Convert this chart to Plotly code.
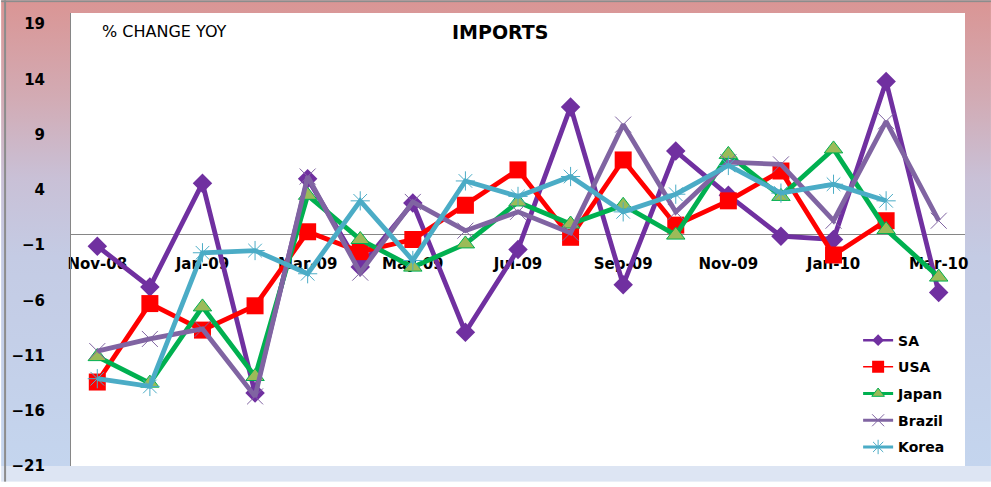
import base64
import plotly.graph_objects as go

# ---------------- data ----------------
months = ["Nov-08", "Dec-08", "Jan-09", "Feb-09", "Mar-09", "Apr-09", "May-09", "Jun-09",
          "Jul-09", "Aug-09", "Sep-09", "Oct-09", "Nov-09", "Dec-09", "Jan-10", "Feb-10", "Mar-10"]
tick_labels = ["Nov-08", "Jan-09", "Mar-09", "May-09", "Jul-09", "Sep-09", "Nov-09", "Jan-10", "Mar-10"]
y_ticks = [-21, -16, -11, -6, -1, 4, 9, 14, 19]

sa = [-1.1, -4.8, 4.6, -14.4, 5.0, -3.0, 2.8, -8.9, -1.4, 11.5, -4.6, 7.5, 3.5, -0.2, -0.5, 13.8, -5.3]
usa = [-13.4, -6.3, -8.7, -6.5, 0.2, -1.6, -0.5, 2.6, 5.8, -0.3, 6.7, 0.8, 3.0, 5.7, -1.9, 1.2, None]
japan = [-11.1, -13.5, -6.6, -12.9, 3.5, -0.5, -3.0, -0.9, 2.9, 0.9, 2.6, -0.1, 7.2, 3.4, 7.7, 0.4, -3.9]
brazil = [-10.6, -9.5, -8.6, -14.7, 5.2, -3.5, 2.9, 0.3, 2.0, 0.1, 9.9, 2.0, 6.5, 6.3, 1.2, 10.2, 1.2]
korea = [-13.1, -13.8, -1.7, -1.5, -3.6, 3.0, -2.4, 4.8, 3.4, 5.2, 2.0, 3.6, 6.2, 3.7, 4.5, 3.0, None]

# ---------------- geometry ----------------
W, H = 991, 487
ML, MR, MT, MB = 70, 26, 13, 16
PW, PH = W - ML - MR, H - MT - MB
Y_MIN, Y_MAX = -21, 20

FONT = "DejaVu Sans"

def px_to_paper(px, py):
    return (px - ML) / PW, (H - MB - py) / PH

# background frame (gradient) as an inline SVG image
svg = f'''<svg xmlns="http://www.w3.org/2000/svg" width="{W}" height="{H}" viewBox="0 0 {W} {H}" preserveAspectRatio="none">
<defs><linearGradient id="g" x1="0" y1="0" x2="0" y2="1">
<stop offset="0" stop-color="#da9594"/>
<stop offset="0.21" stop-color="#d2abb4"/>
<stop offset="0.38" stop-color="#c9c0d6"/>
<stop offset="0.55" stop-color="#c4cbe4"/>
<stop offset="1" stop-color="#c4d5ee"/>
</linearGradient></defs>
<rect x="0" y="0" width="{W}" height="{H - MB}" fill="url(#g)"/>
<rect x="0" y="{H - MB}" width="{W}" height="{MB}" fill="#dde5f3"/>
<rect x="{ML}" y="{MT}" width="{PW}" height="{PH}" fill="#ffffff"/>
<rect x="0" y="0" width="{W}" height="2" fill="#8c8c8c"/>
<rect x="3" y="0" width="2" height="{H}" fill="#8c8c8c"/>
</svg>'''
bg_uri = "data:image/svg+xml;base64," + base64.b64encode(svg.encode()).decode()

fig = go.Figure()

series = [
    ("SA", sa, "#7030a0", dict(symbol="diamond", size=15, color="#7030a0"),
     dict(symbol="diamond", size=9, color="#7030a0"), 2.5),
    ("USA", usa, "#ff0000", dict(symbol="square", size=17, color="#ff0000"),
     dict(symbol="square", size=12, color="#ff0000"), 1.5),
    ("Japan", japan, "#00b050", dict(symbol="triangle-up", size=16, color="#9bbb59",
                                     line=dict(color="#00b050", width=1)),
     dict(symbol="triangle-up", size=11, color="#9bbb59", line=dict(color="#00b050", width=1)), 3),
    ("Brazil", brazil, "#8064a2", dict(symbol="x-thin", size=16, color="#8064a2",
                                       line=dict(color="#8064a2", width=1)),
     dict(symbol="x-thin", size=12, color="#8064a2", line=dict(color="#8064a2", width=1)), 3),
    ("Korea", korea, "#4bacc6", dict(symbol="asterisk-open", size=16, color="#4bacc6",
                                     line=dict(color="#4bacc6", width=1)),
     dict(symbol="asterisk-open", size=12, color="#4bacc6", line=dict(color="#4bacc6", width=1)), 3),
]

for name, vals, col, mk, _, _ in series:
    fig.add_trace(go.Scatter(x=months, y=vals, mode="lines+markers", name=name,
                             line=dict(color=col, width=4.8), marker=mk,
                             showlegend=False, connectgaps=False))

# legend entries (thinner lines / smaller markers, as in the original legend)
for name, vals, col, _, lmk, lw in series:
    fig.add_trace(go.Scatter(x=[None], y=[None], mode="lines+markers", name=name,
                             legendgroup=name, line=dict(color=col, width=lw), marker=lmk))

tx, ty = px_to_paper(499, 32)
cx, cy = px_to_paper(164, 32)

fig.update_layout(
    width=W, height=H, autosize=False,
    margin=dict(l=ML, r=MR, t=MT, b=MB, pad=0),
    paper_bgcolor="white", plot_bgcolor="rgba(0,0,0,0)",
    font=dict(family=FONT, color="black"),
    images=[dict(source=bg_uri, xref="paper", yref="paper",
                 x=-ML / PW, y=(H - MB) / PH, sizex=W / PW, sizey=H / PH,
                 xanchor="left", yanchor="top", sizing="stretch", layer="below")],
    xaxis=dict(type="category", categoryorder="array", categoryarray=months,
               range=[-0.5, len(months) - 0.5],
               tickmode="array", tickvals=tick_labels, ticktext=tick_labels,
               anchor="free", position=(0 - Y_MIN) / (Y_MAX - Y_MIN),
               showline=True, linecolor="#868686", linewidth=1,
               showgrid=False, zeroline=False, ticks="", ticklabelstandoff=16,
               layer="below traces",
               tickfont=dict(family=FONT, size=15, weight="bold", color="black")),
    yaxis=dict(range=[Y_MIN, Y_MAX], tickmode="array", tickvals=y_ticks,
               showline=True, linecolor="#868686", linewidth=1,
               showgrid=False, zeroline=False, ticks="", ticklabelstandoff=22,
               tickfont=dict(family=FONT, size=15, weight="bold", color="black")),
    legend=dict(x=(858 - ML) / PW, y=px_to_paper(0, 328)[1], xanchor="left", yanchor="top",
                bgcolor="rgba(0,0,0,0)", borderwidth=0, tracegroupgap=5.5,
                font=dict(family=FONT, size=14, weight="bold", color="black")),
    annotations=[
        dict(text="IMPORTS", x=tx, y=ty, xref="paper", yref="paper", showarrow=False,
             xanchor="center", yanchor="middle",
             font=dict(family=FONT, size=19, weight="bold", color="black")),
        dict(text="% CHANGE YOY", x=cx, y=cy, xref="paper", yref="paper", showarrow=False,
             xanchor="center", yanchor="middle",
             font=dict(family=FONT, size=16, color="black")),
    ],
)

fig.write_html("out.html")
